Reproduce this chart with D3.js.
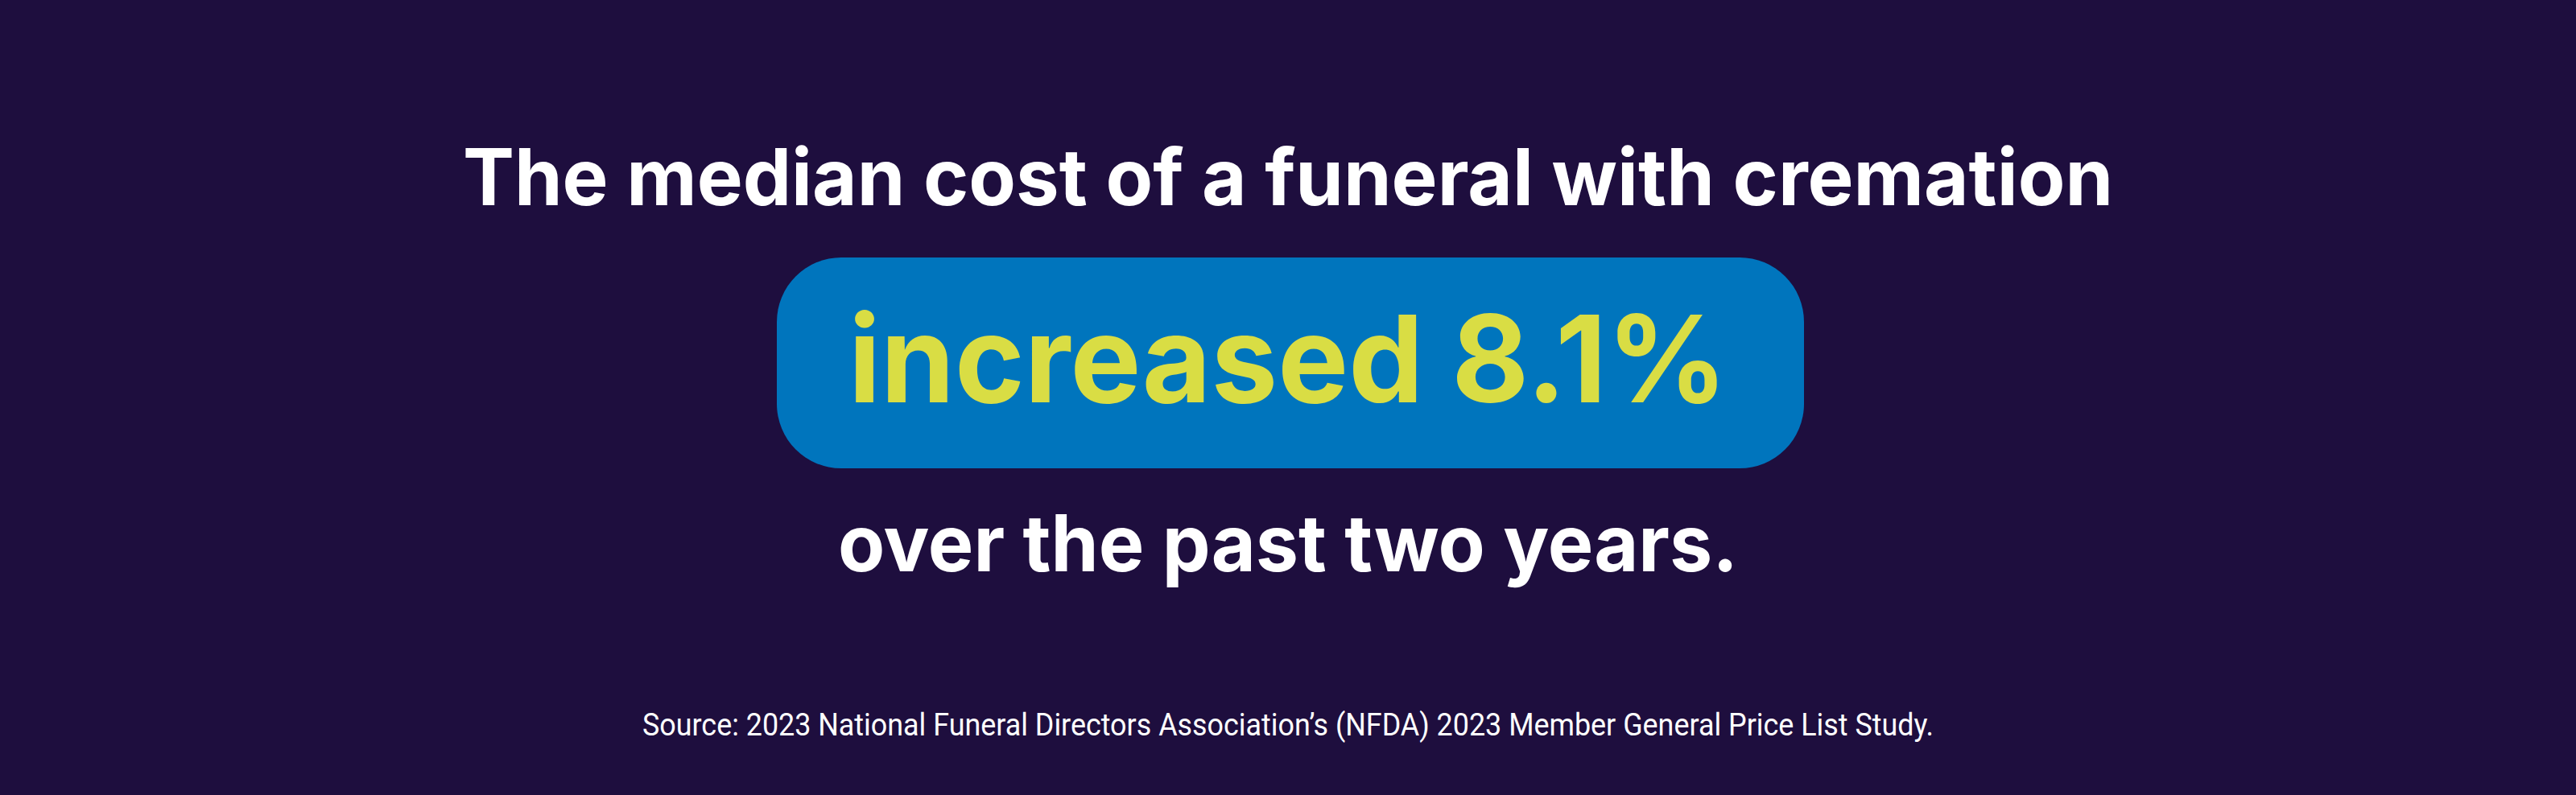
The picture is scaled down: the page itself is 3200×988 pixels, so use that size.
<!DOCTYPE html>
<html>
<head>
<meta charset="utf-8">
<script src="https://cdn.jsdelivr.net/npm/d3@7"></script>
<style>
  body{margin:0;background:#1e0e3e;}
  text{font-family:"Inter","Lato",sans-serif;}
</style>
</head>
<body>
<svg id="chart"></svg>
<script>
var W = 3200, H = 988;

// content of the graphic
var headline = ['The median cost of a funeral with cremation'];
var highlight = ['increased 8.1%'];
var tail = ['over the past two years.'];
var source = ['Source: 2023 National Funeral Directors Association\u2019s (NFDA) 2023 Member General Price List Study.'];

var svg = d3.select('#chart').attr('width', W).attr('height', H);

svg.append('rect').attr('width', W).attr('height', H).attr('fill', '#1e0e3e');

// pill behind the highlighted figure
svg.append('rect')
	.attr('x', 965).attr('y', 320)
	.attr('width', 1276).attr('height', 262)
	.attr('rx', 80).attr('ry', 80)
	.attr('fill', '#0075bd');

function line(data, y, size, weight, color, len, family){
	svg.selectAll(null).data(data).enter()
		.append('text')
		.attr('x', W/2).attr('y', y)
		.attr('text-anchor', 'middle')
		.attr('font-size', size)
		.attr('font-weight', weight)
		.attr('fill', color)
		.attr('textLength', len)
		.attr('lengthAdjust', 'spacingAndGlyphs')
		.style('font-family', family || null)
		.text((t)=>t);
}

line(headline, 255, 98, 700, '#ffffff', 2050);
line(highlight, 500, 150, 700, '#d9dd44', 1092);
line(tail, 710, 98, 700, '#ffffff', 1118);
line(source, 914, 38, 400, '#ffffff', 1604, '"Liberation Sans Narrow","Roboto",sans-serif');
</script>
</body>
</html>
